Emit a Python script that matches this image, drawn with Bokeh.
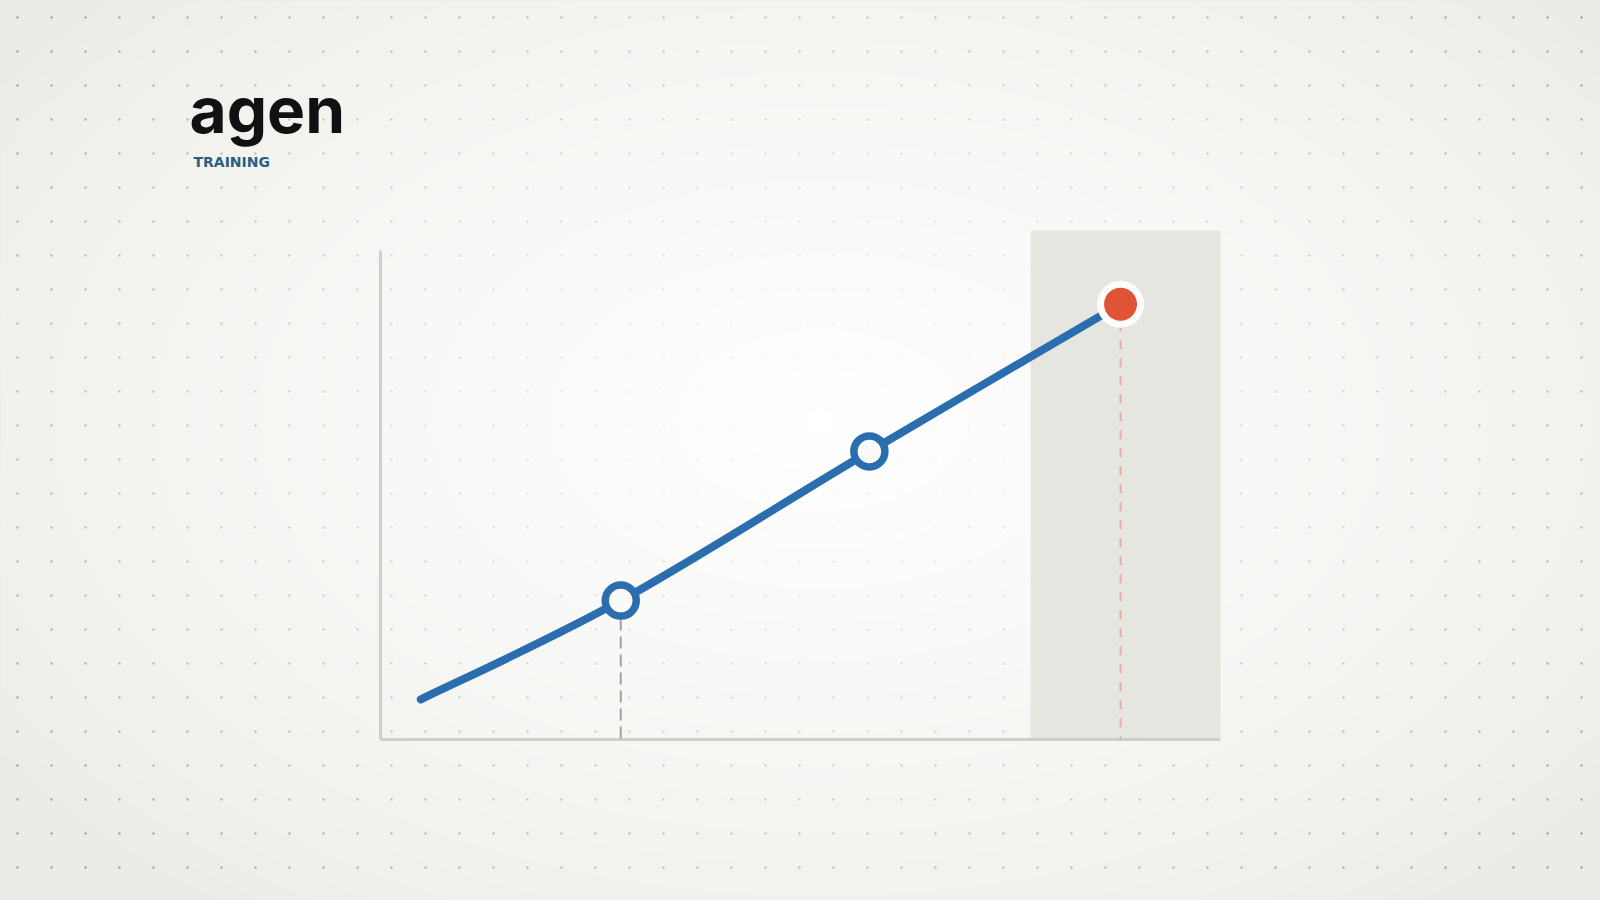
import numpy as np
from bokeh.plotting import figure
from bokeh.models import Range1d
from bokeh.core.properties import value
from bokeh.embed import file_html
from bokeh.resources import INLINE

# ---------------- data ----------------
period = [0.48, 2.86, 5.82, 8.81]          # x values of the curve
score = [0.82, 2.84, 5.89, 8.90]           # y values of the curve
open_idx = [1, 2]                          # open (hollow) markers
peak_idx = 3                               # highlighted point
axis_max_x = 10.0
axis_max_y = 10.0
highlight_x = [7.74, 10.0]                 # shaded region on x
highlight_top = 10.41
logo_text = "agen"
sub_text = "TRAINING"

# ---------------- styles ----------------
BG = "#ecece7"
BLUE = "#2b6eaf"
RED = "#e05337"
W, H = 1600, 900
PX_PER_X = 84.0
PX_PER_Y = 48.9
X0_PAGE, Y0_PAGE = 380.0, 739.0   # page pixel of chart origin

# chart ranges, mapping the whole canvas (page px 0..W, 0..H)
xr = Range1d((0 - X0_PAGE) / PX_PER_X, (W - X0_PAGE) / PX_PER_X)
yr = Range1d((Y0_PAGE - H) / PX_PER_Y, (Y0_PAGE - 0) / PX_PER_Y)

p = figure(width=W, height=H, x_range=xr, y_range=yr,
           x_axis_type=None, y_axis_type=None, toolbar_location=None,
           output_backend="svg", min_border=0)
p.background_fill_color = BG
p.border_fill_color = BG
p.outline_line_color = None
p.xgrid.visible = False
p.ygrid.visible = False

# page-pixel space for decoration
p.extra_x_ranges = {"px": Range1d(0, W)}
p.extra_y_ranges = {"px": Range1d(H, 0)}
PX = dict(x_range_name="px", y_range_name="px")

# dot grid
gx, gy = np.meshgrid(np.arange(17, W, 34), np.arange(17, H, 34))
p.scatter(gx.ravel(), gy.ravel(), marker="square", size=2,
          fill_color="#8f8f8b", line_color=None, **PX)

# soft radial glow as a translucent white RGBA image (background decoration)
S = 4
gw, gh = W // S, H // S
ix = (np.arange(gw) + 0.5) * S
iy = H - (np.arange(gh) + 0.5) * S          # row 0 is the bottom of the canvas
PXX, PYY = np.meshgrid(ix, iy)
dist = np.sqrt(((PXX - 820) / 1000.0) ** 2 + ((PYY - 420) / 620.0) ** 2)
alpha = np.clip(1 - dist, 0, 1) ** 0.8 * 0.97
glow = np.zeros((gh, gw), dtype=np.uint32)
view = glow.view(dtype=np.uint8).reshape((gh, gw, 4))
view[:, :, 0] = 255
view[:, :, 1] = 255
view[:, :, 2] = 255
view[:, :, 3] = (alpha * 255).astype(np.uint8)
p.image_rgba(image=[glow], x=xr.start, y=yr.start,
             dw=xr.end - xr.start, dh=yr.end - yr.start)

# highlight band
p.quad(left=[highlight_x[0]], right=[highlight_x[1]], bottom=[0], top=[highlight_top],
       fill_color="#e6e6e0", line_color=None)

# axes
p.segment(x0=[0, 0], y0=[0, 0], x1=[axis_max_x, 0], y1=[0, axis_max_y],
          line_color="#cfcfca", line_width=3)

# drop lines
p.segment(x0=[period[open_idx[0]]], y0=[score[open_idx[0]]],
          x1=[period[open_idx[0]]], y1=[0],
          line_color="#a2a29d", line_width=2, line_dash="12 6")
p.segment(x0=[period[peak_idx]], y0=[score[peak_idx]],
          x1=[period[peak_idx]], y1=[0],
          line_color="#e6ae9e", line_width=2, line_dash="9 9")

# smooth curve (Catmull-Rom as cubic Bezier)
xs = np.array(period)
ys = np.array(score)
xe = np.concatenate([[xs[0]], xs, [xs[-1]]])
ye = np.concatenate([[ys[0]], ys, [ys[-1]]])
bx0, by0, bx1, by1, c0x, c0y, c1x, c1y = ([] for _ in range(8))
for i in range(len(xs) - 1):
    a, b, c, d = i, i + 1, i + 2, i + 3
    bx0.append(xe[b]); by0.append(ye[b])
    bx1.append(xe[c]); by1.append(ye[c])
    c0x.append(xe[b] + (xe[c] - xe[a]) / 6); c0y.append(ye[b] + (ye[c] - ye[a]) / 6)
    c1x.append(xe[c] - (xe[d] - xe[b]) / 6); c1y.append(ye[c] - (ye[d] - ye[b]) / 6)
p.bezier(x0=bx0, y0=by0, x1=bx1, y1=by1, cx0=c0x, cy0=c0y, cx1=c1x, cy1=c1y,
         line_color=BLUE, line_width=8, line_cap="round")

# markers
p.scatter([period[i] for i in open_idx], [score[i] for i in open_idx], size=31,
          fill_color="#fafaf8", line_color=BLUE, line_width=7.5)
p.scatter([period[peak_idx]], [score[peak_idx]], size=47,
          fill_color="#fcfcfa", line_color=None)
p.scatter([period[peak_idx]], [score[peak_idx]], size=33,
          fill_color=RED, line_color=None)

# logo
p.text(x=[189], y=[109], text=[logo_text], text_font=value("Inter"),
       text_font_size="64px", text_font_style="bold", text_color="#111111",
       text_baseline="alphabetic", text_align="left", **PX)
p.text(x=[193], y=[161], text=[sub_text], text_font=value("DejaVu Sans"),
       text_font_size="14px", text_font_style="bold", text_color="#2b5f82",
       text_baseline="alphabetic", text_align="left", **PX)

html = file_html(p, INLINE)
html = html.replace("</head>",
                    "<style>html,body{background:%s;overflow:hidden;}</style></head>" % BG, 1)
open("out.html", "w").write(html)
